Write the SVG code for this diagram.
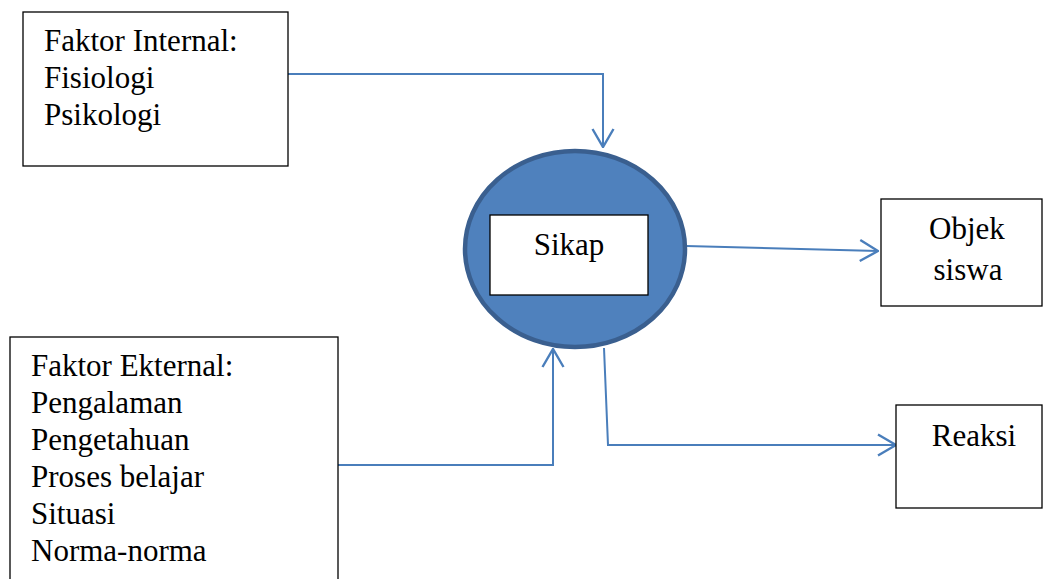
<svg xmlns="http://www.w3.org/2000/svg" width="1043" height="579" viewBox="0 0 1043 579">
<style>
.box{fill:#fff;stroke:#000;stroke-width:1.3}
.t{font-family:"Liberation Serif","Times New Roman",serif;font-size:31px;fill:#000}
.c{fill:none;stroke:#4A7EBB;stroke-width:2}
</style>
<defs>
<marker id="arr" viewBox="0 0 20 24" refX="19" refY="12" markerWidth="20" markerHeight="24" markerUnits="userSpaceOnUse" orient="auto">
<path d="M1,1.5 L19,12 L1,22.5" fill="none" stroke="#4A7EBB" stroke-width="2.4"/>
</marker>
</defs>
<rect width="1043" height="579" fill="#fff"/>
<g id="connectors">
<path class="c" d="M288,74 H603 V147" marker-end="url(#arr)"/>
<path class="c" d="M338,465 H553 V349" marker-end="url(#arr)"/>
<path class="c" d="M686,246 L878,251" marker-end="url(#arr)"/>
<path class="c" d="M604,348 L608,445 H896" marker-end="url(#arr)"/>
</g>
<g id="internal">
<rect class="box" x="23" y="12" width="265" height="154"/>
<text class="t" x="44" y="51">Faktor Internal:</text>
<text class="t" x="44" y="88">Fisiologi</text>
<text class="t" x="44" y="125">Psikologi</text>
</g>
<g id="eksternal">
<rect class="box" x="10" y="337" width="328" height="260"/>
<text class="t" x="31" y="376">Faktor Ekternal:</text>
<text class="t" x="31" y="413">Pengalaman</text>
<text class="t" x="31" y="450">Pengetahuan</text>
<text class="t" x="31" y="487">Proses belajar</text>
<text class="t" x="31" y="524">Situasi</text>
<text class="t" x="31" y="561">Norma-norma</text>
</g>
<g id="sikap">
<ellipse cx="575" cy="249" rx="110" ry="98" fill="#4F81BD" stroke="#3A5F8F" stroke-width="4.5"/>
<rect class="box" x="490" y="215" width="158" height="80"/>
<text class="t" x="569" y="255" text-anchor="middle">Sikap</text>
</g>
<g id="objek">
<rect class="box" x="881" y="199" width="161" height="107"/>
<text class="t" x="967" y="239" text-anchor="middle">Objek</text>
<text class="t" x="968" y="280" text-anchor="middle">siswa</text>
</g>
<g id="reaksi">
<rect class="box" x="896" y="405" width="146" height="103"/>
<text class="t" x="974" y="446" text-anchor="middle">Reaksi</text>
</g>
</svg>
